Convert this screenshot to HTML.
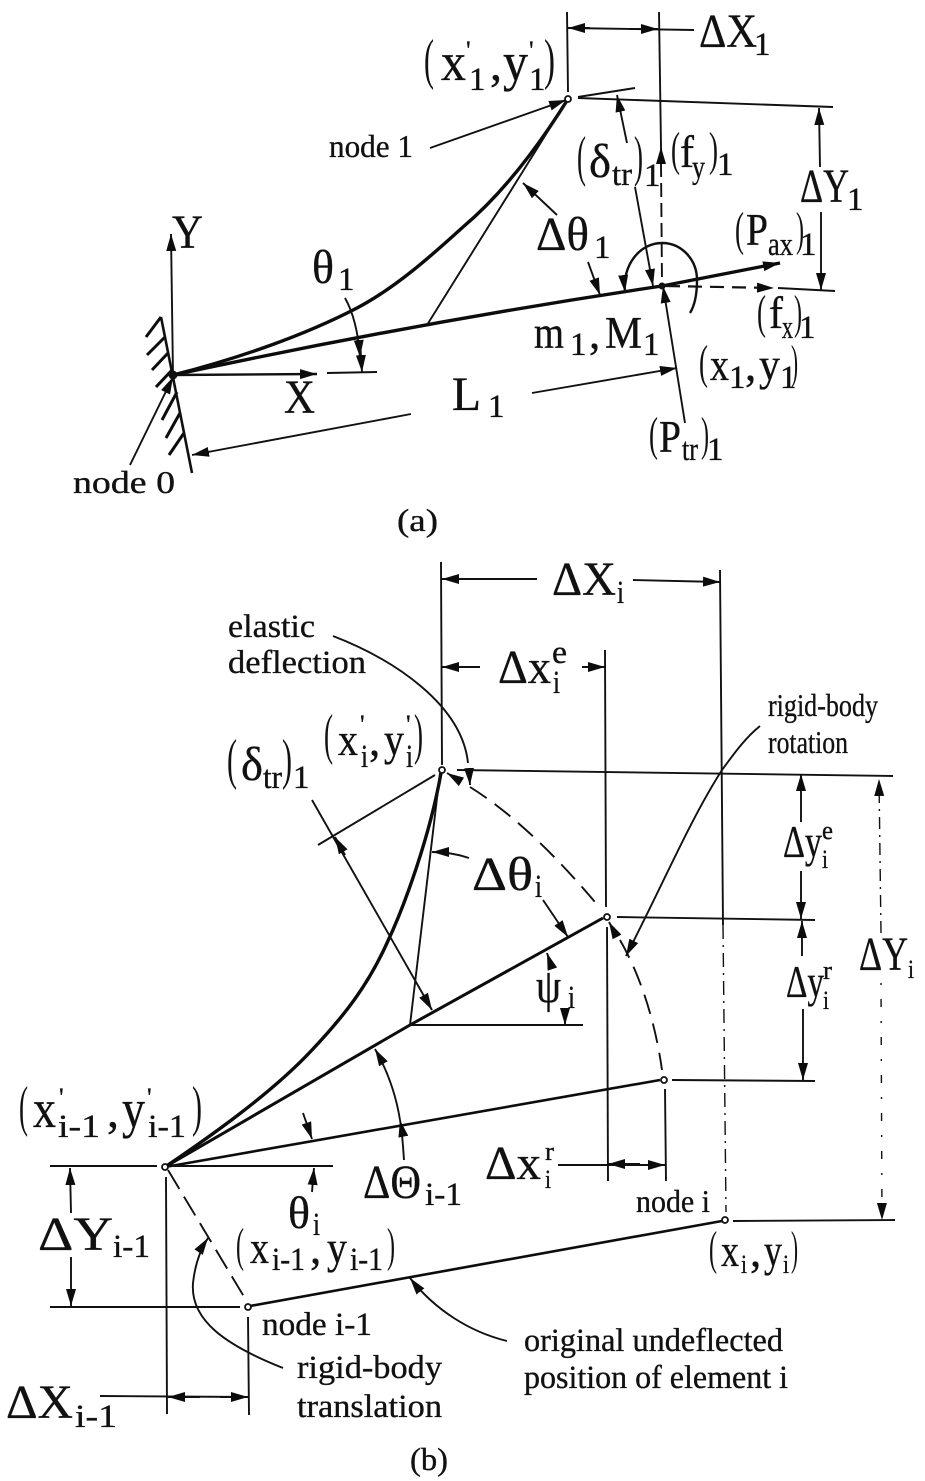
<!DOCTYPE html>
<html><head><meta charset="utf-8"><style>
html,body{margin:0;padding:0;background:#fff}
svg{display:block}
text{font-family:"Liberation Serif",serif;fill:#111;stroke:#111;stroke-width:.35}
.l{font-size:48px}.x{font-size:54px}.m{font-size:45px}.s{font-size:32px}.t{font-size:33px}.q{font-size:26px}.p{font-size:56px;stroke-width:0}.n{font-size:48px;stroke-width:0}
.a line,.a path,.a polyline{fill:none;stroke:#111;stroke-width:1.9}
.k path,.k polyline,.k line{fill:none;stroke:#0c0c0c;stroke-width:3.4}
</style></head><body>
<svg width="925" height="1481" viewBox="0 0 925 1481" xmlns="http://www.w3.org/2000/svg">
<defs>
<marker id="h" markerUnits="userSpaceOnUse" markerWidth="20" markerHeight="12" refX="17" refY="6" orient="auto-start-reverse"><path d="M0 1L17 6L0 11z" fill="#0c0c0c" stroke="none"/></marker>
</defs>

<!-- (a) lines -->
<g class="k">
<path d="M173 375C240 358 305 335 357 308C395 288 430 257 463 227C495 200 530 160 568 99"/>
<path d="M173 375Q420 322 662 286"/>
<line x1="662" y1="286" x2="780" y2="263" marker-end="url(#h)"/>
<line x1="161" y1="317" x2="146" y2="337" style="stroke-width:3"/>
<line x1="165" y1="337" x2="147" y2="355" style="stroke-width:3"/>
<line x1="168" y1="353" x2="152" y2="370" style="stroke-width:3"/>
<line x1="172" y1="370" x2="156" y2="387" style="stroke-width:3"/>
<line x1="177" y1="392" x2="162" y2="420" style="stroke-width:3"/>
<line x1="180" y1="413" x2="166" y2="438" style="stroke-width:3"/>
<line x1="184" y1="433" x2="169" y2="455" style="stroke-width:3"/>
</g>
<g class="a">
<line x1="161" y1="317" x2="192" y2="473" style="stroke-width:2.6"/>
<line x1="173" y1="375" x2="171" y2="234" marker-end="url(#h)"/>
<line x1="173" y1="375" x2="317" y2="374" marker-end="url(#h)" style="stroke-width:2.4"/>
<line x1="327" y1="373" x2="377" y2="372"/>
<line x1="130" y1="465" x2="173" y2="377" marker-end="url(#h)"/>
<line x1="427" y1="325" x2="568" y2="99"/>
<line x1="430" y1="148" x2="566" y2="100" marker-end="url(#h)"/>
<line x1="567" y1="12" x2="568" y2="92"/>
<line x1="659" y1="12" x2="661" y2="147"/>
<line x1="661" y1="163" x2="661" y2="147" marker-end="url(#h)"/>
<line x1="661" y1="163" x2="662" y2="283" stroke-dasharray="14 6"/>
<line x1="568" y1="28" x2="694" y2="30"/>
<line x1="590" y1="28" x2="568" y2="28" marker-end="url(#h)"/>
<line x1="630" y1="29" x2="658" y2="29" marker-end="url(#h)"/>
<line x1="578" y1="98" x2="833" y2="107"/>
<line x1="578" y1="97" x2="635" y2="88"/>
<line x1="627" y1="143" x2="617" y2="95" marker-end="url(#h)"/>
<line x1="635" y1="187" x2="653" y2="286" marker-end="url(#h)"/>
<line x1="820" y1="167" x2="819" y2="108" marker-end="url(#h)"/>
<line x1="821" y1="212" x2="821" y2="290" marker-end="url(#h)"/>
<line x1="778" y1="288" x2="835" y2="291"/>
<line x1="666" y1="286" x2="774" y2="288" stroke-dasharray="14 8" marker-end="url(#h)" style="stroke-width:2.2"/>
<line x1="685" y1="423" x2="663" y2="286" marker-end="url(#h)"/>
<path d="M625 292C622 265 640 243 662 243C682 243 697 260 697 280C697 295 695 305 690 313" marker-start="url(#h)" style="stroke-width:2.4"/>
<line x1="411" y1="414" x2="192" y2="455" marker-end="url(#h)"/>
<line x1="532" y1="393" x2="677" y2="368" marker-end="url(#h)"/>
<path d="M345 298C353 312 358 330 360 357" marker-end="url(#h)"/>
<line x1="360" y1="341" x2="362" y2="372" marker-end="url(#h)"/>
<line x1="557" y1="215" x2="523" y2="183" marker-end="url(#h)"/>
<line x1="588" y1="262" x2="600" y2="295" marker-end="url(#h)"/>
</g>
<circle cx="173" cy="375" r="4.5" fill="#111"/>
<circle cx="662" cy="286" r="3.5" fill="#111"/>
<circle cx="568" cy="99" r="3" fill="#fff" stroke="#111" stroke-width="1.8"/>

<!-- (a) labels -->
<text class="p" x="424" y="78" textLength="10" lengthAdjust="spacingAndGlyphs">(</text><text class="x" x="441" y="80" textLength="25" lengthAdjust="spacingAndGlyphs">x</text><text class="q" x="466" y="59">'</text><text class="t" x="469" y="90">1</text><text class="l" x="490" y="80">,</text><text class="x" x="503" y="80" textLength="25" lengthAdjust="spacingAndGlyphs">y</text><text class="q" x="529" y="59">'</text><text class="t" x="529" y="90">1</text><text class="p" x="544" y="78" textLength="11" lengthAdjust="spacingAndGlyphs">)</text>
<text class="l" x="172" y="248" textLength="31" lengthAdjust="spacingAndGlyphs">Y</text>
<text class="l" x="284" y="413" textLength="31" lengthAdjust="spacingAndGlyphs">X</text>
<text class="l" x="312" y="283" textLength="22" lengthAdjust="spacingAndGlyphs">θ</text><text class="t" x="338" y="290">1</text>
<text class="s" x="329" y="157" textLength="84" lengthAdjust="spacingAndGlyphs">node 1</text>
<text class="l" x="452" y="410" textLength="29" lengthAdjust="spacingAndGlyphs">L</text><text class="t" x="488" y="417">1</text>
<text class="s" x="73" y="493" textLength="102" lengthAdjust="spacingAndGlyphs">node 0</text>
<text class="s" x="397" y="531" textLength="41" lengthAdjust="spacingAndGlyphs">(a)</text>
<text class="l" x="699" y="47" textLength="58" lengthAdjust="spacingAndGlyphs">ΔX</text><text class="t" x="754" y="55">1</text>
<text class="p" x="577" y="175" textLength="9" lengthAdjust="spacingAndGlyphs">(</text><text class="l" x="589" y="177" textLength="22" lengthAdjust="spacingAndGlyphs">δ</text><text class="t" x="612" y="185" textLength="20" lengthAdjust="spacingAndGlyphs">tr</text><text class="p" x="634" y="175" textLength="9" lengthAdjust="spacingAndGlyphs">)</text><text class="t" x="644" y="186">1</text>
<text class="n" x="671" y="165" textLength="9" lengthAdjust="spacingAndGlyphs">(</text><text class="m" x="680" y="167" textLength="14" lengthAdjust="spacingAndGlyphs">f</text><text class="t" x="692" y="178" textLength="13" lengthAdjust="spacingAndGlyphs">y</text><text class="n" x="709" y="165" textLength="9" lengthAdjust="spacingAndGlyphs">)</text><text class="t" x="717" y="175">1</text>
<text class="l" x="800" y="202" textLength="49" lengthAdjust="spacingAndGlyphs">ΔY</text><text class="t" x="847" y="210">1</text>
<text class="l" x="536" y="250" textLength="53" lengthAdjust="spacingAndGlyphs">Δθ</text><text class="t" x="594" y="258">1</text>
<text class="n" x="735" y="245" textLength="9" lengthAdjust="spacingAndGlyphs">(</text><text class="m" x="746" y="245" textLength="22" lengthAdjust="spacingAndGlyphs">P</text><text class="t" x="768" y="255" textLength="25" lengthAdjust="spacingAndGlyphs">ax</text><text class="n" x="796" y="245" textLength="8" lengthAdjust="spacingAndGlyphs">)</text><text class="t" x="800" y="255">1</text>
<text class="n" x="757" y="328" textLength="9" lengthAdjust="spacingAndGlyphs">(</text><text class="m" x="769" y="328" textLength="14" lengthAdjust="spacingAndGlyphs">f</text><text class="t" x="782" y="338" textLength="11" lengthAdjust="spacingAndGlyphs">x</text><text class="n" x="794" y="328" textLength="8" lengthAdjust="spacingAndGlyphs">)</text><text class="t" x="799" y="338">1</text>
<text class="m" x="534" y="348" textLength="30" lengthAdjust="spacingAndGlyphs">m</text><text class="t" x="570" y="355">1</text><text class="m" x="589" y="348">,</text><text class="m" x="605" y="348" textLength="37" lengthAdjust="spacingAndGlyphs">M</text><text class="t" x="643" y="355">1</text>
<text class="n" x="699" y="378" textLength="9" lengthAdjust="spacingAndGlyphs">(</text><text class="m" x="710" y="380" textLength="19" lengthAdjust="spacingAndGlyphs">x</text><text class="t" x="729" y="388">1</text><text class="m" x="745" y="380">,</text><text class="m" x="759" y="380" textLength="21" lengthAdjust="spacingAndGlyphs">y</text><text class="t" x="780" y="388">1</text><text class="n" x="791" y="378" textLength="7" lengthAdjust="spacingAndGlyphs">)</text>
<text class="n" x="649" y="450" textLength="9" lengthAdjust="spacingAndGlyphs">(</text><text class="m" x="659" y="452" textLength="22" lengthAdjust="spacingAndGlyphs">P</text><text class="t" x="682" y="460" textLength="16" lengthAdjust="spacingAndGlyphs">tr</text><text class="n" x="701" y="450" textLength="8" lengthAdjust="spacingAndGlyphs">)</text><text class="t" x="707" y="460">1</text>

<!-- (b) lines -->
<g class="k">
<path d="M165 1167C205 1140 270 1095 312 1050C345 1015 368 985 387 943C405 905 430 835 441 773"/>
<path d="M165 1167L410 1025L603 918" style="stroke-width:3"/>
<line x1="165" y1="1167" x2="660" y2="1080" style="stroke-width:2.6"/>
<line x1="250" y1="1306" x2="722" y2="1221" style="stroke-width:2.6"/>
</g>
<g class="a">
<line x1="410" y1="1025" x2="440" y2="773"/>
<line x1="410" y1="1025" x2="583" y2="1025"/>
<path d="M470 787C515 815 560 860 600 908" stroke-dasharray="20 10"/>
<path d="M620 940C640 975 655 1020 662 1070" stroke-dasharray="20 10"/>
<line x1="168" y1="1170" x2="246" y2="1300" stroke-dasharray="22 9"/>
<line x1="457" y1="770" x2="893" y2="776"/>
<line x1="617" y1="917" x2="815" y2="920"/>
<line x1="672" y1="1080" x2="815" y2="1081"/>
<line x1="733" y1="1221" x2="895" y2="1220"/>
<line x1="50" y1="1166" x2="157" y2="1166"/>
<line x1="172" y1="1166" x2="333" y2="1166"/>
<line x1="50" y1="1307" x2="240" y2="1307"/>
<line x1="441" y1="562" x2="442" y2="765"/>
<line x1="605" y1="650" x2="606" y2="907"/>
<line x1="607" y1="927" x2="608" y2="1181"/>
<line x1="665" y1="1089" x2="666" y2="1181"/>
<line x1="720" y1="570" x2="723" y2="925"/>
<line x1="723" y1="925" x2="726" y2="1212" stroke-dasharray="14 6 2 6" style="stroke-width:1.4"/>
<line x1="537" y1="579" x2="442" y2="579" marker-end="url(#h)"/>
<line x1="633" y1="580" x2="720" y2="582" marker-end="url(#h)"/>
<line x1="480" y1="667" x2="442" y2="667" marker-end="url(#h)"/>
<line x1="582" y1="667" x2="605" y2="667" marker-end="url(#h)"/>
<line x1="166" y1="1177" x2="167" y2="1414"/>
<line x1="248" y1="1317" x2="249" y2="1415"/>
<line x1="100" y1="1396" x2="248" y2="1397"/>
<line x1="200" y1="1397" x2="168" y2="1397" marker-end="url(#h)"/>
<line x1="220" y1="1397" x2="248" y2="1397" marker-end="url(#h)"/>
<line x1="71" y1="1213" x2="70" y2="1168" marker-end="url(#h)"/>
<line x1="71" y1="1257" x2="71" y2="1306" marker-end="url(#h)"/>
<line x1="312" y1="1192" x2="314" y2="1168" marker-end="url(#h)"/>
<line x1="303" y1="1113" x2="312" y2="1139" marker-end="url(#h)"/>
<path d="M404 1160C403 1145 402 1130 400 1120" marker-end="url(#h)"/>
<path d="M400 1120C396 1095 387 1070 375 1049" marker-end="url(#h)"/>
<path d="M283 1368C225 1345 190 1320 193 1283C195 1265 200 1250 208 1238" marker-end="url(#h)"/>
<path d="M507 1341C470 1332 435 1310 410 1278" marker-end="url(#h)"/>
<path d="M760 726C745 738 733 755 722 770C690 820 665 880 626 956" marker-end="url(#h)"/>
<line x1="881" y1="933" x2="879" y2="779" stroke-dasharray="12 6 2 6" marker-end="url(#h)" style="stroke-width:1.4"/>
<line x1="881" y1="983" x2="882" y2="1220" stroke-dasharray="2 14 8 14" marker-end="url(#h)" style="stroke-width:1.4"/>
<line x1="801" y1="822" x2="801" y2="774" marker-end="url(#h)"/>
<line x1="801" y1="871" x2="801" y2="919" marker-end="url(#h)"/>
<line x1="802" y1="956" x2="802" y2="921" marker-end="url(#h)"/>
<line x1="803" y1="1009" x2="803" y2="1080" marker-end="url(#h)"/>
<line x1="558" y1="1165" x2="665" y2="1165"/>
<line x1="640" y1="1164" x2="608" y2="1164" marker-end="url(#h)"/>
<line x1="640" y1="1165" x2="665" y2="1165" marker-end="url(#h)"/>
<path d="M469 858C457 854 445 852 432 852" marker-end="url(#h)"/>
<line x1="543" y1="900" x2="568" y2="937" marker-end="url(#h)"/>
<line x1="552" y1="968" x2="547" y2="953" marker-end="url(#h)"/>
<line x1="565" y1="1008" x2="565" y2="1025" marker-end="url(#h)"/>
<line x1="312" y1="800" x2="432" y2="1010" marker-end="url(#h)"/>
<line x1="345" y1="855" x2="335" y2="837" marker-end="url(#h)"/>
<line x1="318" y1="845" x2="435" y2="775"/>
<line x1="460" y1="781" x2="447" y2="773" marker-end="url(#h)"/>
<line x1="616" y1="935" x2="609" y2="922" marker-end="url(#h)"/>
<path d="M333 636C395 660 462 705 468 763"/>
<line x1="469" y1="768" x2="470" y2="785" marker-end="url(#h)"/>
</g>
<g fill="#fff" stroke="#111" stroke-width="1.8">
<circle cx="442" cy="770" r="3"/><circle cx="607" cy="917" r="3"/><circle cx="664" cy="1080" r="3"/><circle cx="725" cy="1220" r="3"/><circle cx="165" cy="1167" r="3"/><circle cx="248" cy="1307" r="3"/>
</g>

<!-- (b) labels -->
<text class="l" x="552" y="595" textLength="64" lengthAdjust="spacingAndGlyphs">ΔX</text><text class="t" x="617" y="603" textLength="7" lengthAdjust="spacingAndGlyphs">i</text>
<text class="t" x="228" y="637" textLength="87" lengthAdjust="spacingAndGlyphs">elastic</text>
<text class="t" x="228" y="673" textLength="138" lengthAdjust="spacingAndGlyphs">deflection</text>
<text class="l" x="498" y="683" textLength="53" lengthAdjust="spacingAndGlyphs">Δx</text><text class="t" x="552" y="663" textLength="15" lengthAdjust="spacingAndGlyphs">e</text><text class="t" x="553" y="693" textLength="7" lengthAdjust="spacingAndGlyphs">i</text>
<text class="p" x="324" y="753" textLength="9" lengthAdjust="spacingAndGlyphs">(</text><text class="m" x="338" y="755" textLength="20" lengthAdjust="spacingAndGlyphs">x</text><text class="q" x="360" y="733">'</text><text class="t" x="361" y="767" textLength="7" lengthAdjust="spacingAndGlyphs">i</text><text class="m" x="369" y="755">,</text><text class="m" x="384" y="755" textLength="20" lengthAdjust="spacingAndGlyphs">y</text><text class="q" x="406" y="733">'</text><text class="t" x="406" y="767" textLength="7" lengthAdjust="spacingAndGlyphs">i</text><text class="p" x="414" y="753" textLength="9" lengthAdjust="spacingAndGlyphs">)</text>
<text class="p" x="227" y="778" textLength="10" lengthAdjust="spacingAndGlyphs">(</text><text class="l" x="241" y="780" textLength="22" lengthAdjust="spacingAndGlyphs">δ</text><text class="t" x="263" y="788" textLength="19" lengthAdjust="spacingAndGlyphs">tr</text><text class="p" x="282" y="778" textLength="10" lengthAdjust="spacingAndGlyphs">)</text><text class="t" x="293" y="788">1</text>
<text class="l" x="472" y="890" textLength="61" lengthAdjust="spacingAndGlyphs">Δθ</text><text class="t" x="535" y="897" textLength="7" lengthAdjust="spacingAndGlyphs">i</text>
<text class="l" x="536" y="1002" textLength="25" lengthAdjust="spacingAndGlyphs">ψ</text><text class="t" x="568" y="1008" textLength="7" lengthAdjust="spacingAndGlyphs">i</text>
<text class="p" x="19" y="1125" textLength="9" lengthAdjust="spacingAndGlyphs">(</text><text class="x" x="33" y="1127" textLength="23" lengthAdjust="spacingAndGlyphs">x</text><text class="q" x="59" y="1106">'</text><text class="t" x="58" y="1137" textLength="42" lengthAdjust="spacingAndGlyphs">i-1</text><text class="l" x="107" y="1127">,</text><text class="x" x="122" y="1127" textLength="23" lengthAdjust="spacingAndGlyphs">y</text><text class="q" x="147" y="1106">'</text><text class="t" x="148" y="1137" textLength="38" lengthAdjust="spacingAndGlyphs">i-1</text><text class="p" x="192" y="1125" textLength="10" lengthAdjust="spacingAndGlyphs">)</text>
<text class="l" x="38" y="1250" textLength="75" lengthAdjust="spacingAndGlyphs">ΔY</text><text class="t" x="113" y="1257" textLength="37" lengthAdjust="spacingAndGlyphs">i-1</text>
<text class="m" x="288" y="1228" textLength="22" lengthAdjust="spacingAndGlyphs">θ</text><text class="t" x="313" y="1235" textLength="7" lengthAdjust="spacingAndGlyphs">i</text>
<text class="n" x="236" y="1261" textLength="8" lengthAdjust="spacingAndGlyphs">(</text><text class="m" x="250" y="1263" textLength="19" lengthAdjust="spacingAndGlyphs">x</text><text class="t" x="272" y="1270" textLength="33" lengthAdjust="spacingAndGlyphs">i-1</text><text class="m" x="310" y="1263">,</text><text class="m" x="327" y="1263" textLength="20" lengthAdjust="spacingAndGlyphs">y</text><text class="t" x="350" y="1270" textLength="33" lengthAdjust="spacingAndGlyphs">i-1</text><text class="n" x="387" y="1261" textLength="8" lengthAdjust="spacingAndGlyphs">)</text>
<text class="t" x="262" y="1335" textLength="110" lengthAdjust="spacingAndGlyphs">node i-1</text>
<text class="t" x="297" y="1378" textLength="145" lengthAdjust="spacingAndGlyphs">rigid-body</text>
<text class="t" x="297" y="1417" textLength="145" lengthAdjust="spacingAndGlyphs">translation</text>
<text class="l" x="6" y="1418" textLength="67" lengthAdjust="spacingAndGlyphs">ΔX</text><text class="t" x="75" y="1427" textLength="42" lengthAdjust="spacingAndGlyphs">i-1</text>
<text class="s" x="410" y="1470" textLength="38" lengthAdjust="spacingAndGlyphs">(b)</text>
<text class="l" x="363" y="1198" textLength="58" lengthAdjust="spacingAndGlyphs">ΔΘ</text><text class="t" x="425" y="1205" textLength="37" lengthAdjust="spacingAndGlyphs">i-1</text>
<text class="s" x="768" y="716" textLength="110" lengthAdjust="spacingAndGlyphs">rigid-body</text>
<text class="s" x="768" y="753" textLength="80" lengthAdjust="spacingAndGlyphs">rotation</text>
<text class="m" x="783" y="857" textLength="39" lengthAdjust="spacingAndGlyphs">Δy</text><text class="q" x="822" y="839" textLength="11" lengthAdjust="spacingAndGlyphs">e</text><text class="q" x="822" y="868" textLength="6" lengthAdjust="spacingAndGlyphs">i</text>
<text class="m" x="786" y="997" textLength="38" lengthAdjust="spacingAndGlyphs">Δy</text><text class="q" x="823" y="979" textLength="9" lengthAdjust="spacingAndGlyphs">r</text><text class="q" x="823" y="1009" textLength="6" lengthAdjust="spacingAndGlyphs">i</text>
<text class="l" x="859" y="970" textLength="49" lengthAdjust="spacingAndGlyphs">ΔY</text><text class="q" x="908" y="978" textLength="6" lengthAdjust="spacingAndGlyphs">i</text>
<text class="l" x="485" y="1179" textLength="56" lengthAdjust="spacingAndGlyphs">Δx</text><text class="q" x="545" y="1160" textLength="9" lengthAdjust="spacingAndGlyphs">r</text><text class="q" x="545" y="1188" textLength="6" lengthAdjust="spacingAndGlyphs">i</text>
<text class="s" x="636" y="1212" textLength="74" lengthAdjust="spacingAndGlyphs">node i</text>
<text class="n" x="709" y="1264" textLength="8" lengthAdjust="spacingAndGlyphs">(</text><text class="m" x="721" y="1266" textLength="18" lengthAdjust="spacingAndGlyphs">x</text><text class="q" x="741" y="1273" textLength="6" lengthAdjust="spacingAndGlyphs">i</text><text class="m" x="750" y="1266">,</text><text class="m" x="764" y="1266" textLength="18" lengthAdjust="spacingAndGlyphs">y</text><text class="q" x="783" y="1273" textLength="6" lengthAdjust="spacingAndGlyphs">i</text><text class="n" x="791" y="1264" textLength="7" lengthAdjust="spacingAndGlyphs">)</text>
<text class="t" x="524" y="1351" textLength="259" lengthAdjust="spacingAndGlyphs">original undeflected</text>
<text class="t" x="524" y="1388" textLength="264" lengthAdjust="spacingAndGlyphs">position of element i</text>
</svg>
</body></html>
